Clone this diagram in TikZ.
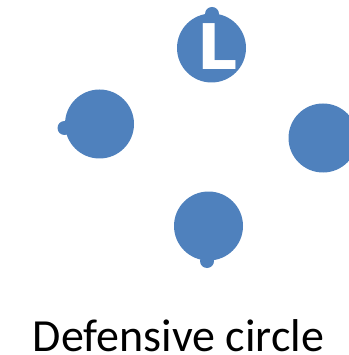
\documentclass[tikz,border=0pt]{standalone}
\usepackage{fontspec}
\setmainfont{Carlito}
\newfontfamily\letterfont{DejaVu Sans}
\usetikzlibrary{positioning}
\definecolor{pblue}{RGB}{79,129,189}
\tikzset{
  player/.style={circle,fill=pblue,minimum size=69pt,inner sep=0pt},
  nub/.style={circle,fill=pblue,minimum size=14pt,inner sep=0pt},
  caption/.style={font=\fontsize{46}{50}\selectfont,text=black,inner sep=0pt},
}
\begin{document}
\begin{tikzpicture}[x=1pt,y=-1pt]
  \useasboundingbox (0,0) rectangle (348,355);
  % players, each with a small nub showing its facing
  \node[player] (top) at (211.5,48) {};
  \node[nub] (topnub) at (212,14) {};
  \node[player] (left) at (99.5,124) {};
  \node[nub] (leftnub) at (64.5,128) {};
  \node[player] (right) at (323,138) {};
  \node[player] (bottom) at (208.5,226) {};
  \node[nub] (bottomnub) at (207,261) {};
  % leader mark
  \node[text=white,inner sep=0pt,font=\letterfont\bfseries\fontsize{63}{63}\selectfont] (lead) at (218,47) {L};
  \node[caption,anchor=base] (title) at (178.5,351.5) {Defensive circle};
\end{tikzpicture}
\end{document}
